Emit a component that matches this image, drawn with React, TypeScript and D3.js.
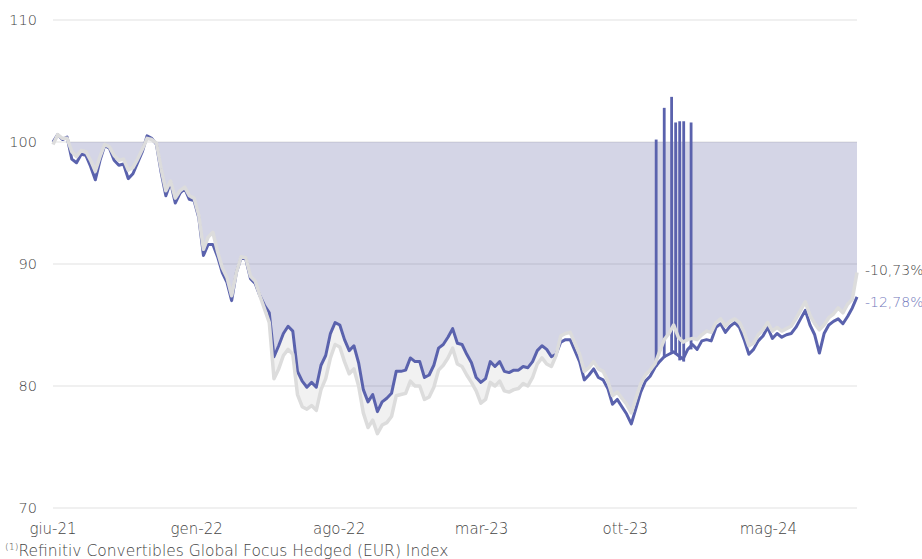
import * as d3 from "d3";

// weekly closes, first point 1 June 2021
const START = new Date(2021, 5, 1);

// fund (blue line)
const fundValues = [
  100.0, 100.6, 100.2, 100.4, 98.6, 98.3, 99.0, 98.9, 98.0, 96.9,
  98.5, 99.7, 99.5, 98.5, 98.1, 98.2, 97.0, 97.4, 98.3, 99.2,
  100.5, 100.3, 99.8, 97.5, 95.6, 96.7, 95.0, 95.8, 96.2, 95.3,
  95.2, 93.8, 90.7, 91.6, 91.6, 90.6, 89.3, 88.5, 87.0, 89.3,
  90.5, 90.4, 88.8, 88.4, 87.4, 86.6, 86.0, 82.4, 83.3, 84.3,
  84.9, 84.5, 81.2, 80.4, 79.9, 80.3, 79.9, 81.7, 82.5, 84.3,
  85.2, 85.0, 83.8, 82.9, 83.3, 81.9, 79.7, 78.7, 79.3, 77.9,
  78.7, 79.0, 79.4, 81.2, 81.2, 81.3, 82.3, 82.0, 82.0, 80.7,
  80.9, 81.7, 83.1, 83.4, 84.0, 84.7, 83.5, 83.4, 82.6, 81.9,
  80.7, 80.3, 80.6, 82.0, 81.6, 82.0, 81.2, 81.1, 81.3, 81.3,
  81.6, 81.5, 82.0, 82.9, 83.3, 83.0, 82.4, 82.6, 83.6, 83.8,
  83.8, 82.9, 82.0, 80.5, 80.9, 81.4, 80.7, 80.5, 79.8, 78.5,
  78.9, 78.3, 77.7, 76.9, 78.2, 79.5, 80.4, 80.8, 81.5, 82.0,
  82.4, 82.6, 82.8, 82.5, 82.2, 83.0, 83.4, 83.0, 83.7, 83.8,
  83.7, 84.8, 85.1, 84.4, 84.9, 85.2, 84.8, 83.8, 82.6, 83.0,
  83.7, 84.1, 84.8, 83.9, 84.3, 84.0, 84.2, 84.3, 84.8, 85.5,
  86.2, 85.0, 84.2, 82.7, 84.3, 85.0, 85.3, 85.5, 85.1, 85.7,
  86.4, 87.3,
];

// benchmark index (grey line)
const indexValues = [
  99.8, 100.6, 100.3, 100.3, 99.2, 98.8, 99.3, 99.2, 98.5, 97.6,
  98.8, 99.8, 99.6, 98.9, 98.5, 98.6, 97.7, 97.9, 98.6, 99.4,
  100.3, 100.2, 99.9, 97.8, 96.0, 96.8, 95.4, 96.0, 96.3, 95.6,
  95.4, 94.0, 91.2, 92.2, 92.6, 91.0, 89.7, 88.9, 87.4, 89.3,
  90.6, 90.5, 89.0, 88.6, 87.4, 86.3, 85.2, 80.6, 81.4, 82.5,
  83.0, 82.6, 79.3, 78.3, 78.1, 78.4, 78.0, 79.7, 80.6, 82.3,
  83.4, 83.2, 82.0, 81.0, 81.4, 80.0, 77.8, 76.6, 77.2, 76.1,
  76.8, 77.0, 77.5, 79.2, 79.3, 79.4, 80.4, 80.0, 80.0, 78.9,
  79.1, 79.9, 81.3, 81.7, 82.3, 83.1, 81.8, 81.6, 80.9, 80.3,
  79.6, 78.6, 78.9, 80.3, 80.0, 80.4, 79.6, 79.5, 79.7, 79.8,
  80.2, 80.0, 80.7, 81.8, 82.3, 81.8, 81.6, 82.5, 84.1, 84.3,
  84.4, 83.5, 82.6, 81.2, 81.5, 82.0, 81.4, 81.2, 80.4, 79.2,
  79.5, 79.0, 78.5, 77.8, 79.0, 80.2, 80.9, 81.3, 81.8, 82.8,
  83.8, 84.3, 85.0, 84.0, 83.6, 83.8, 83.9, 83.8, 84.2, 84.5,
  84.4, 85.2, 85.5, 84.9, 85.3, 85.5, 85.2, 84.4, 83.3, 83.5,
  84.2, 84.6, 85.2, 84.5, 84.8, 84.5, 84.7, 84.9, 85.5, 86.2,
  86.9, 85.8, 85.1, 84.6, 85.0, 85.6, 85.9, 86.4, 86.0, 86.7,
  87.1, 89.3,
];

// one-day pricing spikes in the fund series
const spikeDates = ["2023-11-16", "2023-11-28", "2023-12-09", "2023-12-15", "2023-12-21", "2023-12-27", "2024-01-07"];
const spikeHighs = [100.2, 102.8, 103.7, 101.6, 101.7, 101.7, 101.6];
const spikeLows = [81.6, 82.3, 82.8, 82.6, 82.1, 82.0, 83.0];

const yTicks = [70, 80, 90, 100, 110];
const xTickDates = ["2021-06-01", "2022-01-01", "2022-08-01", "2023-03-01", "2023-10-01", "2024-05-01"];
const xTickLabels = ["giu-21", "gen-22", "ago-22", "mar-23", "ott-23", "mag-24"];

const indexLabel = "-10,73%";
const fundLabel = "-12,78%";
const footnote = "Refinitiv Convertibles Global Focus Hedged (EUR) Index";

const BASE = 100;
const W = 922;
const H = 559;
const FONT = "'DejaVu Sans', 'Open Sans', sans-serif";

export default function App() {
  const margin = { top: 20, right: 65, bottom: 51, left: 53 };
  const parse = d3.timeParse("%Y-%m-%d");

  const rows = fundValues.map((v, i) => ({
    date: d3.timeDay.offset(START, i * 7),
    fund: v,
    index: indexValues[i],
  }));

  const x = d3
    .scaleTime()
    .domain(d3.extent(rows, (d) => d.date) as [Date, Date])
    .range([margin.left, W - margin.right]);

  const y = d3
    .scaleLinear()
    .domain([70, 110])
    .range([H - margin.bottom, margin.top]);

  // shaded drawdown: from 100 down to the higher of the two lines
  const drawdown = d3
    .area<(typeof rows)[number]>()
    .x((d) => x(d.date))
    .y0(y(BASE))
    .y1((d) => y(Math.min(BASE, Math.max(d.fund, d.index))));

  const gap = d3
    .area<(typeof rows)[number]>()
    .x((d) => x(d.date))
    .y0((d) => y(d.index))
    .y1((d) => y(Math.max(d.fund, d.index)));

  const fundLine = d3
    .line<(typeof rows)[number]>()
    .x((d) => x(d.date))
    .y((d) => y(d.fund));

  const indexLine = d3
    .line<(typeof rows)[number]>()
    .x((d) => x(d.date))
    .y((d) => y(d.index));

  const spikeLine = d3.line<[Date, number]>()
    .x((d) => x(d[0]))
    .y((d) => y(d[1]));

  const last = rows[rows.length - 1];
  const xEnd = W - margin.right;

  return (
    <svg
      width={W}
      height={H}
      style={{ position: "absolute", left: 0, top: 0, background: "#fff" }}
      fontFamily={FONT}
      fontWeight={200}
    >
      {yTicks.map((t) => (
        <g key={t}>
          <line x1={margin.left} x2={xEnd} y1={y(t)} y2={y(t)} stroke="#e2e2e2" strokeWidth={1.2} />
          <text x={37} y={y(t)} dy="0.35em" textAnchor="end" fontSize={14.5} fill="#444">
            {t}
          </text>
        </g>
      ))}

      <path d={drawdown(rows) ?? ""} fill="rgba(70,74,145,0.23)" />
      <path d={gap(rows) ?? ""} fill="#f1f1f1" />

      <path d={fundLine(rows) ?? ""} fill="none" stroke="#5a62ad" strokeWidth={3} strokeLinejoin="round" />
      {spikeDates.map((s, i) => (
        <path
          key={s}
          d={spikeLine([[parse(s)!, spikeLows[i]], [parse(s)!, spikeHighs[i]]]) ?? ""}
          stroke="#5a62ad"
          strokeWidth={2.8}
          fill="none"
        />
      ))}
      <path d={indexLine(rows) ?? ""} fill="none" stroke="#dcdcdc" strokeWidth={3.5} strokeLinejoin="round" />

      {xTickDates.map((s, i) => (
        <text key={s} x={x(parse(s)!)} y={534} textAnchor="middle" fontSize={15} fill="#444">
          {xTickLabels[i]}
        </text>
      ))}

      <text x={xEnd + 8} y={y(last.index) - 2} dy="0.35em" fontSize={14} fill="#444">
        {indexLabel}
      </text>
      <text x={xEnd + 8} y={y(last.fund) + 5} dy="0.35em" fontSize={14} fill="#7177bb">
        {fundLabel}
      </text>

      <text x={5} y={556} fontSize={15.5} fill="#444">
        <tspan fontSize={9.5} dy={-6}>(1)</tspan>
        <tspan dy={6}>{footnote}</tspan>
      </text>
    </svg>
  );
}
